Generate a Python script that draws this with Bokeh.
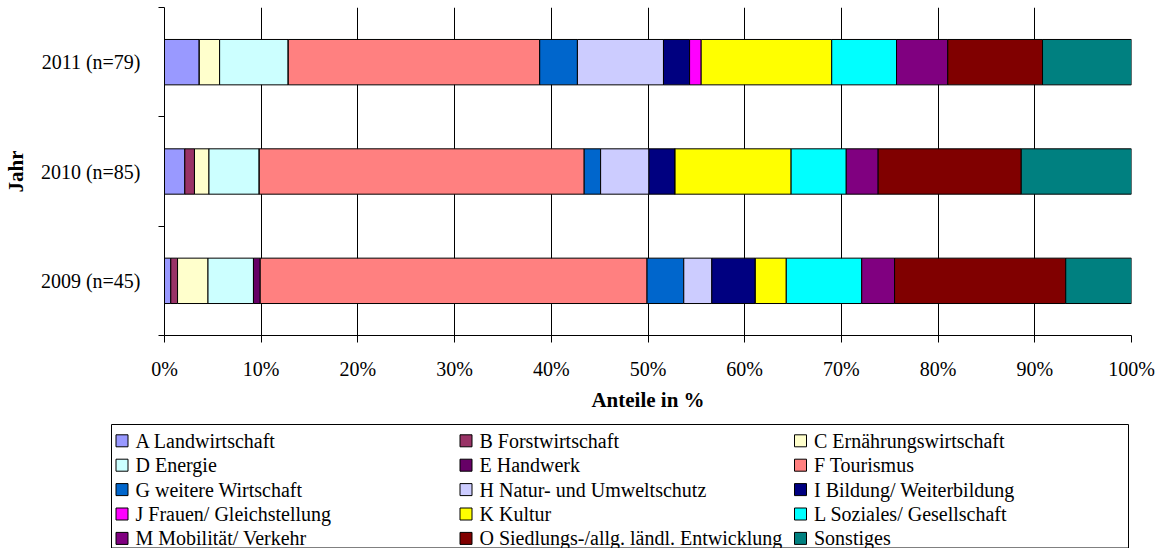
from bokeh.plotting import figure
from bokeh.models import ColumnDataSource, Range1d, FixedTicker
from bokeh.embed import file_html
from bokeh.resources import INLINE
from bokeh.core.properties import value

# ---------------- data ----------------
years = ["2009 (n=45)", "2010 (n=85)", "2011 (n=79)"]
categories = [
    "A Landwirtschaft", "B Forstwirtschaft", "C Ernährungswirtschaft",
    "D Energie", "E Handwerk", "F Tourismus",
    "G weitere Wirtschaft", "H Natur- und Umweltschutz", "I Bildung/ Weiterbildung",
    "J Frauen/ Gleichstellung", "K Kultur", "L Soziales/ Gesellschaft",
    "M Mobilität/ Verkehr", "O Siedlungs-/allg. ländl. Entwicklung", "Sonstiges",
]
colors = [
    "#9999FF", "#993366", "#FFFFCC",
    "#CCFFFF", "#660066", "#FF8080",
    "#0066CC", "#CCCCFF", "#000080",
    "#FF00FF", "#FFFF00", "#00FFFF",
    "#800080", "#800000", "#008080",
]
share_2009 = [0.65, 0.7, 3.15, 4.7, 0.7, 40.0, 3.8, 2.9, 4.5, 0.0, 3.2, 7.8, 3.4, 17.7, 6.8]
share_2010 = [2.1, 1.0, 1.5, 5.2, 0.0, 33.6, 1.7, 5.0, 2.7, 0.0, 12.0, 5.7, 3.3, 14.8, 11.4]
share_2011 = [3.6, 0.0, 2.1, 7.1, 0.0, 26.0, 3.9, 8.9, 2.7, 1.2, 13.5, 6.7, 5.3, 9.8, 9.2]
x_ticks = [0, 10, 20, 30, 40, 50, 60, 70, 80, 90, 100]
x_tick_labels = ["0%", "10%", "20%", "30%", "40%", "50%", "60%", "70%", "80%", "90%", "100%"]
x_title = "Anteile in %"
y_title = "Jahr"

FONT = "Liberation Serif"
FS = "20px"
FS_TITLE = "21px"

# ---------------- main chart ----------------
y_pos = [i + 0.5 for i in range(len(years))]
keys = ["c%d" % i for i in range(len(categories))]
data = {"y": y_pos}
for i, k in enumerate(keys):
    data[k] = [share_2009[i], share_2010[i], share_2011[i]]
src = ColumnDataSource(data)

p = figure(width=1156, height=414, x_range=Range1d(0, 100), y_range=Range1d(0, len(years)),
           output_backend="svg", toolbar_location=None,
           min_border_left=158, min_border_right=25, min_border_top=7, min_border_bottom=78)
p.outline_line_color = None
p.background_fill_color = "white"

p.hbar_stack(keys, y="y", height=0.415, source=src,
             fill_color=colors, line_color="black", line_width=1)

p.xaxis.ticker = FixedTicker(ticks=x_ticks)
p.xaxis.major_label_overrides = {t: l for t, l in zip(x_ticks, x_tick_labels)}
p.xaxis.axis_label = x_title
p.xaxis.major_tick_out = 7
p.xaxis.major_tick_in = 0
p.xaxis.minor_tick_out = 0
p.xaxis.minor_tick_in = 0
p.xaxis.major_label_standoff = 15
p.xaxis.axis_label_standoff = 5

p.yaxis.ticker = FixedTicker(ticks=y_pos, minor_ticks=[0, 1, 2, 3])
p.yaxis.major_label_overrides = {y: l for y, l in zip(y_pos, years)}
p.yaxis.axis_label = y_title
p.yaxis.major_tick_out = 0
p.yaxis.major_tick_in = 0
p.yaxis.minor_tick_out = 6
p.yaxis.minor_tick_in = 0
p.yaxis.major_label_standoff = 18
p.yaxis.axis_label_standoff = 10

for ax in (p.xaxis, p.yaxis):
    ax.axis_line_color = "black"
    ax.major_tick_line_color = "black"
    ax.minor_tick_line_color = "black"
    ax.major_label_text_font = FONT
    ax.major_label_text_font_size = FS
    ax.major_label_text_color = "black"
    ax.axis_label_text_font = FONT
    ax.axis_label_text_font_size = FS_TITLE
    ax.axis_label_text_font_style = "bold"
    ax.axis_label_text_color = "black"

p.xgrid.ticker = FixedTicker(ticks=x_ticks)
p.xgrid.grid_line_color = "black"
p.xgrid.grid_line_width = 1
p.ygrid.visible = False

# ---------------- legend strip (own root, pixel coordinates) ----------------
LH = 134
lg = figure(width=1156, height=LH, x_range=Range1d(0, 1156), y_range=Range1d(LH, 0),
            x_axis_type=None, y_axis_type=None, output_backend="svg",
            toolbar_location=None, min_border=0)
lg.outline_line_color = None
lg.grid.visible = False

col_x = [115.5, 459.5, 794.0]
row_y0, row_dy = 26.3, 24.4
msize = 12
mx, my, tx = [], [], []
for i in range(len(categories)):
    r, c = divmod(i, 3)
    mx.append(col_x[c] + msize / 2)
    my.append(row_y0 + r * row_dy)
    tx.append(col_x[c] + msize + 7.5)

lg.quad(left=[111], right=[1128], top=[10], bottom=[LH - 0.5],
        fill_color=None, line_color="black", line_width=1)
lg.rect(x=mx, y=my, width=msize, height=msize, fill_color=colors,
        line_color="black", line_width=1)
lg.text(x=tx, y=my, text=categories, text_font=value(FONT), text_font_size=FS,
        text_baseline="middle", text_align="left", text_color="black")

open("out.html", "w").write(file_html([p, lg], INLINE))
